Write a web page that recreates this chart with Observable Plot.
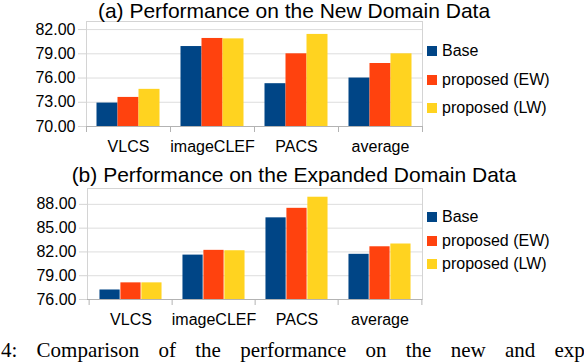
<!DOCTYPE html>
<html>
<head>
<meta charset="utf-8">
<script src="https://cdn.jsdelivr.net/npm/d3@7"></script>
<script src="https://cdn.jsdelivr.net/npm/@observablehq/plot@0.6"></script>
<style>
  html, body { margin: 0; padding: 0; background: #fff; }
  #root { position: relative; width: 584px; height: 364px; overflow: hidden; background: #fff; font-family: "Liberation Sans", Arial, sans-serif; color: #000; }
  .title { position: absolute; left: 0; width: 588px; text-align: center; font-size: 21px; line-height: 21px; white-space: nowrap; }
  .panel { position: absolute; left: 0; }
  .legend { position: absolute; left: 427px; font-size: 16px; }
  .item { position: absolute; left: 0; display: flex; align-items: center; white-space: nowrap; height: 16px; line-height: 16px; }
  .sw { width: 10px; height: 10px; margin-right: 5px; }
  .caption { position: absolute; left: 1px; top: 340px; font-family: "Liberation Serif", "Times New Roman", serif; font-size: 21px; line-height: 21px; white-space: nowrap; word-spacing: 14px; }
</style>
</head>
<body>
<div id="root"></div>
<script>
const categories = ["VLCS", "imageCLEF", "PACS", "average"];
const series = ["Base", "proposed (EW)", "proposed (LW)"];
const colors = ["#004586", "#ff420e", "#ffd320"];

const titleNew = "(a) Performance on the New Domain Data";
const newBase = [72.9, 79.9, 75.3, 76.0];
const newEW   = [73.6, 80.9, 79.0, 77.8];
const newLW   = [74.6, 80.85, 81.4, 79.0];
const newDomain = [70, 83];
const newTicks = [70, 73, 76, 79, 82];

const titleExp = "(b) Performance on the Expanded Domain Data";
const expBase = [77.2, 81.6, 86.3, 81.7];
const expEW   = [78.1, 82.2, 87.5, 82.65];
const expLW   = [78.1, 82.15, 88.9, 83.0];
const expDomain = [76, 90];
const expTicks = [76, 79, 82, 85, 88];

const captionText = "4: Comparison of the performance on the new and exp";

const root = document.getElementById("root");

function panel(cfg) {
  const W = 430, H = 160;
  const ml = cfg.ml, mr = 8;
  const bw = (W - ml - mr) / categories.length;
  const bar = bw * 0.25, off = bw * 0.125;
  const marks = [
    Plot.gridY(cfg.ticks, {stroke: "#dddddd", strokeOpacity: 1}),
    Plot.frame({stroke: "#d4d4d4"})
  ];
  cfg.values.forEach((vals, k) => {
    const data = categories.map((c, i) => ({category: c, series: series[k], value: vals[i]}));
    marks.push(Plot.barY(data, {
      x: "category", y1: cfg.domain[0], y2: "value", fill: colors[k],
      insetLeft: off + k * bar, insetRight: off + (2 - k) * bar
    }));
  });
  marks.push(
    Plot.ruleY([cfg.domain[0]], {stroke: "#b3b3b3"}),
    Plot.axisY(cfg.ticks, {tickFormat: d3.format(".2f"), tickSize: 8, tickPadding: 3, stroke: "#d4d4d4", fill: "#000", fontSize: 16, label: null}),
    Plot.axisX({tickSize: 0, tickPadding: 14, fill: "#000", fontSize: 16, label: null}),
    Plot.axisX({tickSize: 6, tickFormat: () => "", dx: -bw / 2, stroke: "#b3b3b3", label: null}),
    Plot.axisX([categories[categories.length - 1]], {tickSize: 6, tickFormat: () => "", dx: bw / 2, stroke: "#b3b3b3", label: null})
  );
  const svg = Plot.plot({
    width: W, height: H,
    marginLeft: ml, marginRight: mr, marginTop: 21, marginBottom: cfg.mb,
    x: {domain: categories, padding: 0, label: null},
    y: {domain: cfg.domain, label: null},
    style: {fontFamily: "'Liberation Sans', Arial, sans-serif", fontSize: "16px", background: "transparent", overflow: "visible", color: "#000"},
    marks
  });
  const wrap = document.createElement("div");
  wrap.className = "panel";
  wrap.style.top = cfg.top + "px";
  wrap.appendChild(svg);
  root.appendChild(wrap);

  const t = document.createElement("div");
  t.className = "title";
  t.style.top = cfg.titleTop + "px";
  t.textContent = cfg.title;
  root.appendChild(t);

  const lg = document.createElement("div");
  lg.className = "legend";
  lg.style.top = "0px";
  series.forEach((s, k) => {
    const it = document.createElement("div");
    it.className = "item";
    it.style.top = (cfg.legendY[k] - 8) + "px";
    const sw = document.createElement("div");
    sw.className = "sw";
    sw.style.background = colors[k];
    const tx = document.createElement("span");
    tx.textContent = s;
    it.appendChild(sw); it.appendChild(tx);
    lg.appendChild(it);
  });
  root.appendChild(lg);
}

panel({title: titleNew, titleTop: 0, top: 0, ml: 86, mb: 34, values: [newBase, newEW, newLW], domain: newDomain, ticks: newTicks, legendY: [51.3, 80, 108.3]});
panel({title: titleExp, titleTop: 164, top: 167, ml: 87, mb: 28, values: [expBase, expEW, expLW], domain: expDomain, ticks: expTicks, legendY: [217.2, 240.7, 263.8]});

const cap = document.createElement("div");
cap.className = "caption";
cap.textContent = captionText;
root.appendChild(cap);
</script>
</body>
</html>
